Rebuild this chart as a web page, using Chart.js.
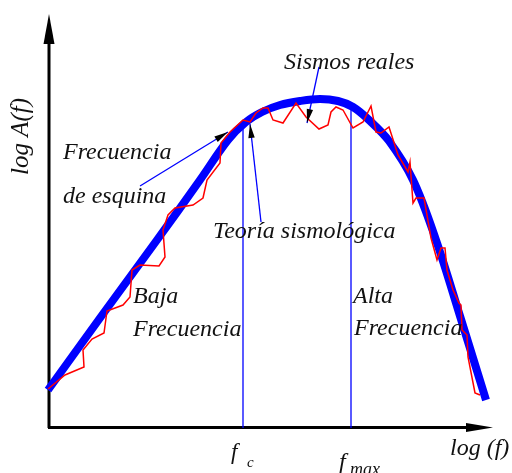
<!DOCTYPE html>
<html><head><meta charset="utf-8">
<script src="https://cdn.jsdelivr.net/npm/chart.js@4"></script>
<style>html,body{margin:0;padding:0;background:#fff}canvas{display:block}</style>
</head><body>
<canvas id="c" width="512" height="473"></canvas>
<script>
// Theoretical (seismological theory) spectrum, log f vs log A(f) in arbitrary units
const theoryX = [0, 52, 109, 152, 180, 198, 214, 232, 252, 272, 290, 305, 321, 341, 365, 388, 412, 438];
const theoryY = [38, 110, 188, 248, 288, 306, 316, 323, 327, 329, 327, 321, 308, 287, 248, 188, 112, 28];

// Real earthquakes spectrum (jagged)
const realX = [0, 17, 36, 35, 44, 56, 59, 75, 82, 84, 92, 111, 117, 115, 120, 127, 145, 155, 159, 172, 173, 182, 195, 202, 208, 215, 220, 225, 235, 248, 258, 271, 280, 283, 288, 295, 305, 315, 323, 328, 333, 341, 350, 360, 362, 365, 368, 376, 383, 389, 393, 397, 399, 405, 411, 413, 414, 419, 420, 427, 432];
const realY = [39, 53, 61, 78, 89, 95, 117, 123, 131, 158, 163, 162, 171, 198, 213, 220, 223, 230, 248, 265, 285, 296, 308, 306, 315, 320, 320, 308, 305, 325, 311, 299, 303, 316, 321, 318, 300, 306, 322, 296, 295, 301, 273, 256, 266, 225, 230, 230, 190, 168, 180, 180, 158, 138, 125, 123, 98, 93, 71, 35, 33];

// Corner frequency and fmax markers
const markerNames = ['fc', 'fmax'];
const markerX = [195, 303];
const markerTop = [308, 325];

// Annotation pointers [fromX, fromY, toX, toY]
const pointerEsquina = [92, 242, 180, 296];
const pointerTeoria = [213, 206, 202, 304];
const pointerSismos = [271, 361, 259, 305];

// Text labels [text, x, y] (baseline, same units)
const labels = [
  ['Frecuencia', 15, 269],
  ['de esquina', 15, 225],
  ['Sismos reales', 236, 359],
  ['Teoría sismológica', 165, 190],
  ['Baja', 85, 125],
  ['Frecuencia', 85, 92],
  ['Alta', 305, 125],
  ['Frecuencia', 306, 93],
  ['log (f)', 402, -27]
];

const toPts = (xs, ys) => xs.map((v, i) => ({x: v, y: ys[i]}));
const ptr = p => [{x: p[0], y: p[1]}, {x: p[2], y: p[3]}];

const thin = (data, extra) => Object.assign({
  data, borderColor: '#0000ff', borderWidth: 1.3, pointRadius: 0, showLine: true, fill: false, clip: false, order: 2
}, extra || {});

const datasets = [
  {label: 'Sismos reales', data: toPts(realX, realY), borderColor: '#ff0000', borderWidth: 1.5,
   pointRadius: 0, showLine: true, fill: false, clip: false, order: 0, tension: 0},
  {label: 'Teoría sismológica', data: toPts(theoryX, theoryY), borderColor: '#0000ff', borderWidth: 8,
   pointRadius: 0, showLine: true, fill: false, clip: false, order: 1, tension: 0.35},
  thin([{x: markerX[0], y: 0}, {x: markerX[0], y: markerTop[0]}]),
  thin([{x: markerX[1], y: 0}, {x: markerX[1], y: markerTop[1]}]),
  thin(ptr(pointerEsquina), {arrow: true}),
  thin(ptr(pointerTeoria), {arrow: true}),
  thin(ptr(pointerSismos), {arrow: true})
];

const FONT = 'italic 24px "Liberation Serif", "Times New Roman", serif';

const deco = {
  id: 'deco',
  beforeDatasetsDraw(chart) {
    const {ctx, chartArea: a} = chart;
    ctx.save();
    ctx.strokeStyle = '#000'; ctx.fillStyle = '#000'; ctx.lineWidth = 3;
    ctx.beginPath(); ctx.moveTo(a.left + 1, a.bottom); ctx.lineTo(a.left + 1, a.top + 28); ctx.stroke();
    ctx.beginPath(); ctx.moveTo(a.left + 1, a.top); ctx.lineTo(a.left - 4.5, a.top + 30); ctx.lineTo(a.left + 6.5, a.top + 30); ctx.closePath(); ctx.fill();
    ctx.beginPath(); ctx.moveTo(a.left, a.bottom - 0.5); ctx.lineTo(a.right - 26, a.bottom - 0.5); ctx.stroke();
    ctx.beginPath(); ctx.moveTo(a.right - 2, a.bottom - 0.5); ctx.lineTo(a.right - 29, a.bottom - 5); ctx.lineTo(a.right - 29, a.bottom + 4); ctx.closePath(); ctx.fill();
    ctx.restore();
  },
  afterDatasetsDraw(chart) {
    const {ctx, scales: {x, y}} = chart;
    ctx.save();
    chart.data.datasets.forEach((ds, i) => {
      if (!ds.arrow) return;
      const pts = chart.getDatasetMeta(i).data;
      const p1 = pts[pts.length - 2], p2 = pts[pts.length - 1];
      const ang = Math.atan2(p2.y - p1.y, p2.x - p1.x);
      ctx.save(); ctx.translate(p2.x, p2.y); ctx.rotate(ang);
      ctx.beginPath(); ctx.moveTo(0, 0); ctx.lineTo(-14, -3.2); ctx.lineTo(-14, 3.2); ctx.closePath();
      ctx.fillStyle = '#000'; ctx.fill(); ctx.restore();
    });
    ctx.fillStyle = '#111';
    ctx.textBaseline = 'alphabetic'; ctx.textAlign = 'left';
    ctx.font = FONT;
    labels.forEach(([t, lx, ly]) => ctx.fillText(t, x.getPixelForValue(lx), y.getPixelForValue(ly)));
    ctx.save();
    ctx.translate(x.getPixelForValue(-20), y.getPixelForValue(253));
    ctx.rotate(-Math.PI / 2);
    ctx.font = 'italic 25px "Liberation Serif", "Times New Roman", serif';
    ctx.fillText('log A(f)', 0, 0);
    ctx.restore();
    ctx.font = 'italic 23px "Liberation Serif", serif';
    ctx.fillText('f', x.getPixelForValue(markerX[0]) - 12, y.getPixelForValue(-31));
    ctx.font = 'italic 15px "Liberation Serif", serif';
    ctx.fillText('c', x.getPixelForValue(markerX[0]) + 4, y.getPixelForValue(-39));
    ctx.font = 'italic 24px "Liberation Serif", serif';
    ctx.fillText('f', x.getPixelForValue(markerX[1]) - 12, y.getPixelForValue(-41));
    ctx.font = 'italic 18px "Liberation Serif", serif';
    ctx.fillText('max', x.getPixelForValue(markerX[1]) - 1, y.getPixelForValue(-47));
    ctx.restore();
  }
};

new Chart(document.getElementById('c'), {
  type: 'scatter',
  data: {datasets},
  options: {
    responsive: false,
    animation: false,
    layout: {padding: {left: 48, right: 17, top: 14, bottom: 45}},
    plugins: {legend: {display: false}, tooltip: {enabled: false}},
    scales: {
      x: {type: 'linear', min: 0, max: 447, display: false},
      y: {type: 'linear', min: 0, max: 414, display: false}
    }
  },
  plugins: [deco]
});
</script></body></html>
